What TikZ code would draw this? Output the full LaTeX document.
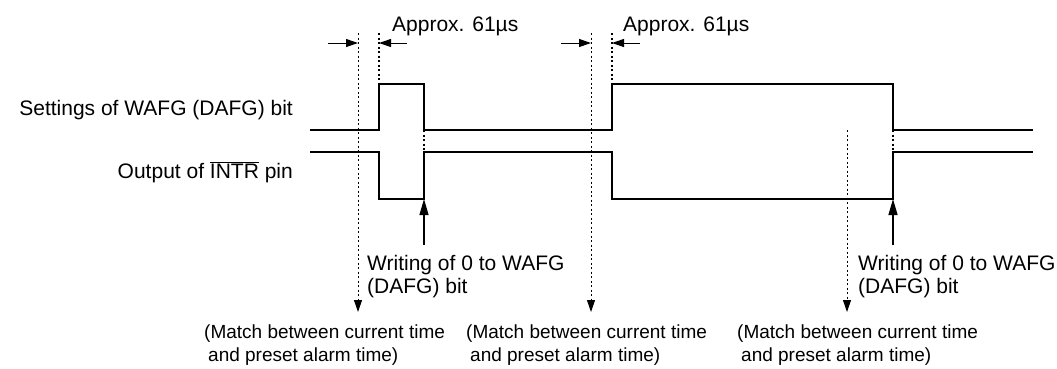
\documentclass[tikz,border=0pt]{standalone}
\usepackage{fontspec}
\setmainfont{Liberation Sans}
\usetikzlibrary{arrows.meta, positioning}
\tikzstyle{caption} = [inner sep=0pt, font=\fontsize{21}{23}\selectfont]
\tikzstyle{remark} = [inner sep=0pt, align=left, font=\fontsize{19}{23}\selectfont]
\tikzstyle{signal} = [line width=1.5pt, line join=miter]
\tikzstyle{guide} = [line width=1.6pt, dash pattern=on 2pt off 2.5pt]
\tikzstyle{pointer} = [-{Triangle[length=12pt, width=8pt]}, line width=1pt]
\tikzstyle{lift} = [-{Triangle[length=16pt, width=9pt]}, line width=1.3pt]

\begin{document}
\begin{tikzpicture}[x=1pt, y=-1pt]
    \useasboundingbox (0,0) rectangle (1057,368);

    % signal names
    \node (wafg name) [caption, anchor=base east] at (293,115.5) {Settings of WAFG (DAFG) bit};
    \node (intr name) [caption, anchor=base east] at (293,178) {Output of \(\overline{\hbox{INTR}}\) pin};

    % waveforms
    \draw [signal] (310,130) -- (379,130) -- (379,84) -- (424,84) -- (424,130)
        -- (612,130) -- (612,84) -- (893,84) -- (893,130) -- (1033,130);
    \draw [signal] (310,152) -- (379,152) -- (379,199) -- (424,199) -- (424,152)
        -- (612,152) -- (612,199) -- (893,199) -- (893,152) -- (1033,152);

    % alarm matches
    \foreach \i/\x/\a/\l in {1/358/33/204, 2/591/33/466, 3/847/130/737} {
        \coordinate (mark \i) at (\x, \a);
        \coordinate (tip \i) at (\x, 312);
        \node (match \i) [remark, anchor=north west] at (\l, 325)
            {(Match between current time\\\hspace{4pt}and preset alarm time)};
        \draw [guide, pointer] (mark \i) -- (tip \i);
    }

    % edge guides
    \foreach \i/\x/\a/\b in {1/379/33/84, 2/612/33/84, 3/424/130/152, 4/893/130/152} {
        \coordinate (edge top \i) at (\x, \a);
        \coordinate (edge bottom \i) at (\x, \b);
        \draw [guide] (edge top \i) -- (edge bottom \i);
    }

    % delay of approx. 61us
    \foreach \i/\x/\l in {1/358/392, 2/591/623} {
        \node (delay \i) [caption, anchor=base west] at (\l, 31) {Approx. 61µs};
        \coordinate (left \i) at (\x - 30, 43);
        \coordinate (left end \i) at (\x, 43);
        \coordinate (right \i) at (\x + 49, 43);
        \coordinate (right end \i) at (\x + 21, 43);
        \draw [pointer] (left \i) -- (left end \i);
        \draw [pointer] (right \i) -- (right end \i);
    }

    % writing of 0
    \foreach \i/\x/\l in {1/424/367, 2/893/858} {
        \node (write \i) [caption, align=left, anchor=north west] at (\l, 255)
            {Writing of 0 to WAFG\\(DAFG) bit};
        \coordinate (foot \i) at (\x, 245);
        \coordinate (head \i) at (\x, 199);
        \draw [lift] (foot \i) -- (head \i);
    }
\end{tikzpicture}
\end{document}
